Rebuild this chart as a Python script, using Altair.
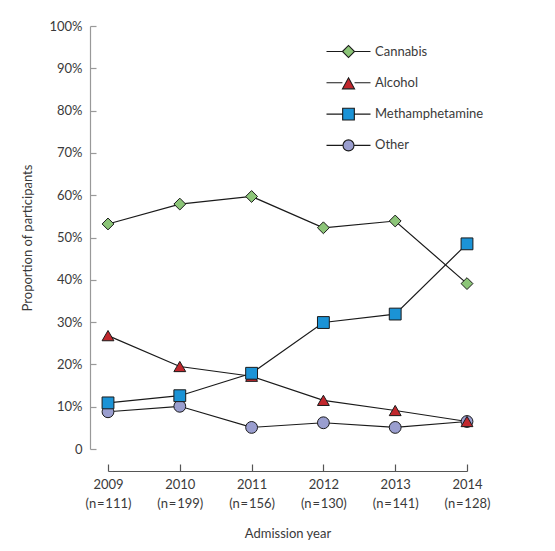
import altair as alt
import pandas as pd

years = ["2009", "2010", "2011", "2012", "2013", "2014"]
n_values = [111, 199, 156, 130, 141, 128]
series = ["Cannabis", "Alcohol", "Methamphetamine", "Other"]
cannabis = [53.2, 57.9, 59.7, 52.3, 53.9, 39.1]
alcohol = [26.8, 19.5, 17.2, 11.5, 9.1, 6.5]
methamphetamine = [10.9, 12.6, 17.9, 29.9, 31.9, 48.5]
other = [8.8, 10.1, 5.1, 6.2, 5.1, 6.5]

fill_colors = ["#8cc578", "#c1272d", "#1b93d6", "#9a9ecf"]
stroke_colors = ["#1a1a1a", "#1a1a1a", "#1a1a1a", "#1a1a1a"]
point_shapes = ["diamond", "triangle-up", "square", "circle"]
legend_shapes = [
    "M-2,0H-0.55M0.55,0H2M-0.55,0L0,-0.55L0.55,0L0,0.55Z",
    "M-2,0H-0.55M0.55,0H2M0,-0.45L0.55,0.55L-0.55,0.55Z",
    "M-2,0H-0.53M0.53,0H2M-0.53,-0.53H0.53V0.53H-0.53Z",
    "M-2,0H-0.5M0.5,0H2M0.5,0A0.5,0.5,0,1,1,-0.5,0A0.5,0.5,0,1,1,0.5,0Z",
]

values = {"Cannabis": cannabis, "Alcohol": alcohol,
          "Methamphetamine": methamphetamine, "Other": other}
draw_order = ["Other", "Alcohol", "Methamphetamine", "Cannabis"]
x_labels = [f"{y}|(n\u200a=\u200a{n})" for y, n in zip(years, n_values)]
rows = []
for s in draw_order:
    for lab, v in zip(x_labels, values[s]):
        rows.append({"label": lab, "series": s, "value": v})
df = pd.DataFrame(rows)

FONT = "Lato"
TXT = "#3a3a3a"
W, H = 359, 423

xscale = alt.Scale(type="point", domain=x_labels, padding=0)
yscale = alt.Scale(domain=[0, 100], nice=False, zero=True)
yticks = list(range(0, 101, 10))

# lines layer carries the inward-pointing tick axes
lines = alt.Chart(df).mark_line(color="#1a1a1a", strokeWidth=1.2).encode(
    x=alt.X("label:N", scale=xscale, sort=x_labels,
            axis=alt.Axis(orient="top", offset=-(H + 22), labels=False, title=None,
                          domain=True, ticks=True, tickSize=7, grid=False,
                          domainColor="#555", tickColor="#555", domainWidth=1.2, tickWidth=1.2)),
    y=alt.Y("value:Q", scale=yscale,
            axis=alt.Axis(orient="right", offset=-(W + 18), labels=False, title=None,
                          values=yticks, domain=True, ticks=True, tickSize=6, grid=False,
                          domainColor="#999", tickColor="#999", domainWidth=1.2, tickWidth=1.2)),
    detail="series:N",
)

point_layers = []
for i, s in enumerate(draw_order):
    k = series.index(s)
    if i == 0:
        xenc = alt.X("label:N", scale=xscale, sort=x_labels,
                     axis=alt.Axis(orient="bottom", offset=0, domain=False, ticks=False,
                                   labelExpr="split(datum.label, '|')", labelAngle=0,
                                   labelPadding=29, labelLineHeight=19.5, labelOverlap=False,
                                   title="Admission year", titlePadding=17, grid=False))
        yenc = alt.Y("value:Q", scale=yscale,
                     axis=alt.Axis(orient="left", offset=18, domain=False, ticks=False,
                                   values=yticks, grid=False, labelPadding=8,
                                   labelExpr="datum.value == 0 ? '0' : datum.value + '%'",
                                   title="Proportion of participants", titlePadding=14))
    else:
        xenc = alt.X("label:N", scale=xscale, sort=x_labels, axis=None)
        yenc = alt.Y("value:Q", scale=yscale, axis=None)
    point_layers.append(
        alt.Chart(df).transform_filter(alt.datum.series == s).mark_point(
            filled=True, size=140, shape=point_shapes[k], fill=fill_colors[k],
            stroke="#1a1a1a", strokeWidth=1, opacity=1,
        ).encode(x=xenc, y=yenc)
    )

leg = alt.Legend(orient="none", legendX=228.5, legendY=13.5, title=None,
                 symbolSize=484, symbolStrokeColor="#1a1a1a", symbolStrokeWidth=1.1,
                 symbolOpacity=1, labelFont=FONT, labelFontSize=13, labelColor=TXT,
                 labelOffset=14.5, rowPadding=10.3, padding=0)

legend_layer = alt.Chart(df).transform_filter("false").mark_point(
    filled=True, size=484, strokeWidth=1.1, opacity=1
).encode(
    x=alt.X("label:N", scale=xscale, axis=None),
    y=alt.Y("value:Q", scale=yscale, axis=None),
    shape=alt.Shape("series:N", scale=alt.Scale(domain=series, range=legend_shapes), legend=leg),
    fill=alt.Fill("series:N", scale=alt.Scale(domain=series, range=fill_colors), legend=leg),
    stroke=alt.Stroke("series:N", scale=alt.Scale(domain=series, range=stroke_colors), legend=leg),
)

chart = alt.layer(lines, *point_layers, legend_layer).resolve_axis(
    x="independent", y="independent"
).properties(
    width=W, height=H,
    padding={"left": 13, "top": 12, "right": 5, "bottom": 5},
    background="white",
).configure_view(stroke=None).configure_axis(
    labelFont=FONT, labelFontSize=13, labelColor=TXT,
    titleFont=FONT, titleFontSize=13, titleColor=TXT, titleFontWeight="normal",
)

chart.save("out.html", embed_options={"renderer": "svg", "actions": False})
